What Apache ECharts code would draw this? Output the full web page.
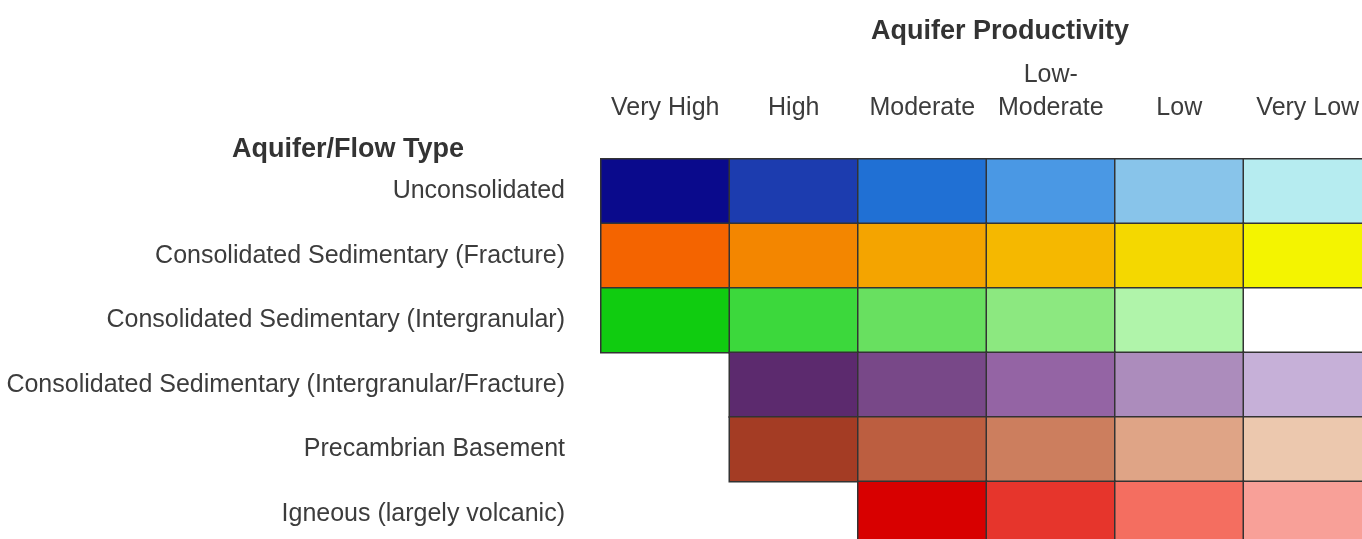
<!DOCTYPE html>
<html>
<head>
<meta charset="utf-8">
<script src="https://cdn.jsdelivr.net/npm/echarts@6/dist/echarts.min.js"></script>
<style>
html,body{margin:0;padding:0;background:#fff;}
#c{width:1362px;height:539px;}
</style>
</head>
<body>
<div id="c"></div>
<script>
var productivity = ['Very High', 'High', 'Moderate', 'Low-\nModerate', 'Low', 'Very Low'];
var flowTypes = ['Unconsolidated', 'Consolidated Sedimentary (Fracture)', 'Consolidated Sedimentary (Intergranular)', 'Consolidated Sedimentary (Intergranular/Fracture)', 'Precambrian Basement', 'Igneous (largely volcanic)'];
// cell colours per flow type (null = no cell)
var unconsolidated = ['#0a0a8c', '#1c3caf', '#2070d4', '#4a98e4', '#88c4ea', '#b6ecf0'];
var sedFracture = ['#f46400', '#f38600', '#f4a400', '#f5b800', '#f4d800', '#f4f400'];
var sedIntergranular = ['#10cc10', '#3cd83c', '#68e060', '#8ce880', '#b0f4aa', '#ffffff'];
var sedIntergranularFracture = [null, '#5c2a6e', '#784888', '#9464a4', '#ac8cbc', '#c6b0d8'];
var precambrian = [null, '#a43c24', '#bc5e40', '#cc7e5e', '#dfa486', '#ecc8ae'];
var igneous = [null, null, '#d80000', '#e6352c', '#f46e60', '#f8a098'];

var rows = [unconsolidated, sedFracture, sedIntergranular, sedIntergranularFracture, precambrian, igneous];
var data = [];
rows.forEach(function (row, r) {
  row.forEach(function (col, c) {
    if (col) data.push({ value: [c, r, c], itemStyle: { color: col } });
  });
});

var chart = echarts.init(document.getElementById('c'), null, { renderer: 'canvas' });
var labelFont = { fontFamily: 'Liberation Sans, Arial, sans-serif', fontSize: 25, color: '#3c3c3c' };
chart.setOption({
  animation: false,
  backgroundColor: '#ffffff',
  title: [
    { text: 'Aquifer Productivity', left: 995, top: 13, textAlign: 'center',
      textStyle: { fontFamily: 'Liberation Sans, Arial, sans-serif', fontSize: 27, fontWeight: 'bold', color: '#333' } },
    { text: 'Aquifer/Flow Type', left: 343, top: 131, textAlign: 'center',
      textStyle: { fontFamily: 'Liberation Sans, Arial, sans-serif', fontSize: 27, fontWeight: 'bold', color: '#333' } }
  ],
  grid: { left: 601, top: 159, width: 771, height: 387, containLabel: false, outerBoundsMode: 'none' },
  xAxis: {
    type: 'category', data: productivity, position: 'top',
    axisLine: { show: false }, axisTick: { show: false }, splitLine: { show: false },
    axisLabel: Object.assign({ margin: 34, lineHeight: 33, interval: 0 }, labelFont)
  },
  yAxis: {
    type: 'category', data: flowTypes, inverse: true,
    axisLine: { show: false }, axisTick: { show: false }, splitLine: { show: false },
    axisLabel: Object.assign({ margin: 36, interval: 0, padding: [6, 0, 0, 0] }, labelFont)
  },
  series: [{
    type: 'heatmap',
    data: data,
    itemStyle: { borderColor: '#333', borderWidth: 1.5 },
    emphasis: { disabled: true }
  }]
});
</script>
</body>
</html>
